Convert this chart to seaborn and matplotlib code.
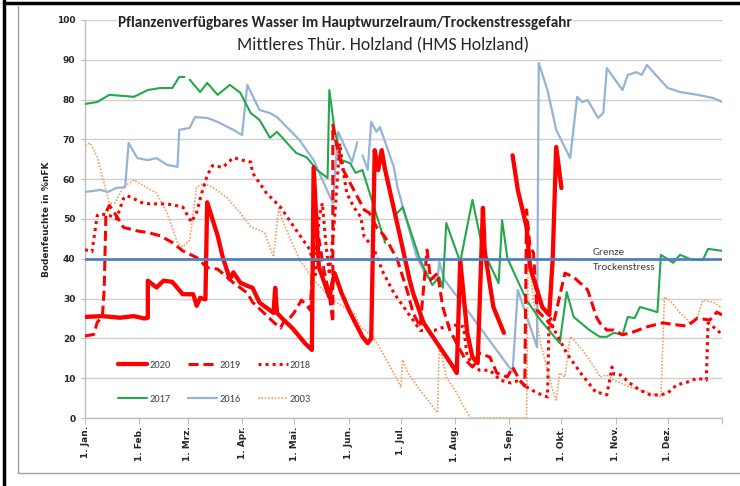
import numpy as np
import pandas as pd
import matplotlib
matplotlib.use("Agg")
import matplotlib.pyplot as plt
import seaborn as sns
from matplotlib import font_manager
from matplotlib.lines import Line2D

N = None
# ---------------- data (day of year, %nFK) ----------------
days_2020 = [0, 10, 20, 28, 34, 36, 36, 41, 45, 50, 56, 62, 64, 66, 69, 70, 76, 79, 83, 85, 89, 93, 96, 100, 108, 109,
             110, 113, 119, 126, 130, 131, 134, 140, 143, 147, 152, 159, 162, 164, 166, 168, 170, 172, 181, 186, 188,
             194, 211, 213, 215, 219, 222, 225, 228, 229, 234, 240, N, 245, 248, 253, 255, 262, 266, 268, 270, 273]
vals_2020 = [25.4, 25.6, 25.2, 25.6, 25.0, 25.2, 34.5, 32.8, 34.5, 34.2, 31.1, 31.1, 28.2, 30.2, 29.8, 54.2, 45.8, 40.3,
             34.9, 36.6, 34.0, 33.2, 32.7, 29.0, 26.4, 32.7, 26.4, 25.0, 22.5, 18.8, 17.1, 63.0, 38.0, 30.4, 36.4, 31.4,
             26.4, 20.4, 18.8, 20.0, 67.3, 62.3, 67.3, 62.3, 44.7, 34.7, 31.4, 23.9, 12.8, 11.3, 39.7, 21.4, 15.3, 13.8,
             52.8, 42.0, 27.9, 21.4, N, 66.0, 57.3, 48.0, 38.0, 27.9, 25.9, 40.0, 68.1, 57.8]

days_2019 = [0, 5, 7, 10, 11, 12, 14, 18, 22, 30, 36, 43, 50, 56, 64, 70, 76, 85, 93, 96, 102, 108, 112, 115, 118, 120,
             124, 127, 129, 131, 134, 137, 140, 142, 142, 145, 148, 154, 160, 163, 167, 171, 173, 179, 185, 188, 192,
             196, 198, 202, 205, 209, 218, 222, 226, 232, 236, 242, 245, 249, 252, 253, 255, 257, 259, 268, 275, 280,
             288, 293, 295, 299, 303, 308, 314, 322, 331, 339, 345, 351, 358, 362, 365]
vals_2019 = [20.6, 21.0, 24.0, 25.6, 32.4, 51.7, 53.4, 50.8, 47.9, 47.0, 46.6, 45.8, 44.1, 42.0, 40.3, 37.8, 37.4, 34.0,
             31.4, 29.1, 26.6, 24.1, 22.6, 25.1, 25.4, 26.6, 29.6, 28.4, 27.1, 42.0, 45.0, 37.0, 31.0, 24.0, 73.6, 66.6,
             62.3, 57.3, 52.3, 51.5, 48.0, 46.0, 44.7, 39.7, 31.4, 26.4, 22.9, 42.2, 34.7, 36.4, 27.9, 22.1, 14.6, 12.8,
             16.3, 15.3, 11.3, 10.3, 12.8, 9.5, 8.0, 52.3, 43.0, 41.5, 27.1, 22.9, 36.4, 35.4, 32.2, 25.4, 23.9, 22.1,
             22.1, 20.9, 21.6, 22.9, 23.9, 23.4, 23.1, 25.1, 24.6, 26.6, 25.9]

days_2018 = [0, 4, 7, 9, 14, 18, 22, 24, 28, 32, 37, 45, 50, 56, 61, 64, 67, 70, 73, 79, 85, 91, 95, 96, 104, 112, 121,
             129, 132, 134, 136, 138, 140, 143, 146, 148, 150, 154, 158, 160, 165, 171, 177, 185, 188, 192, 200, 210,
             217, 219, 226, 232, 238, 244, 249, 253, 259, 265, 266, 268, 272, 276, 284, 293, 295, 299, 302, 303, 307,
             312, 318, 324, 330, 334, 339, 345, 351, 356, 357, 360, 364]
vals_2018 = [42.3, 41.8, 50.9, 51.3, 50.9, 50.0, 55.1, 55.9, 55.1, 54.2, 53.8, 53.8, 53.6, 53.0, 49.2, 51.7, 56.7, 60.9,
             63.4, 63.0, 65.4, 64.7, 64.3, 61.6, 56.5, 53.0, 47.2, 42.2, 36.0, 50.0, 54.0, 44.0, 36.0, 50.0, 69.0, 62.0,
             56.5, 53.0, 50.5, 45.5, 43.0, 36.4, 31.4, 26.4, 24.6, 22.0, 22.0, 23.5, 22.9, 15.3, 12.0, 12.0, 9.5, 8.8,
             9.5, 7.8, 6.3, 5.3, 26.4, 22.9, 19.6, 16.3, 11.3, 6.3, 6.3, 5.8, 12.8, 11.0, 10.8, 8.8, 7.0, 5.8, 5.8, 6.3,
             8.3, 9.0, 10.0, 9.5, 23.9, 22.9, 21.4]

days_2017 = [0, 7, 14, 28, 36, 43, 50, 54, 57, N, 60, 66, 70, 76, 83, 89, 95, 100, 106, 110, 121, 127, 133, 139, 140,
             143, 147, 152, 155, 159, 172, N, 179, 182, 192, 199, 203, 205, 207, 215, 222, 228, 237, 239, 242, 253, 261,
             272, 276, 280, 289, 295, 299, 303, 308, 311, 315, 318, 328, 330, 337, 341, 348, 354, 357, 365]
vals_2017 = [78.9, 79.4, 81.2, 80.7, 82.4, 82.9, 82.9, 85.7, 85.7, N, 85.0, 81.9, 84.2, 81.2, 83.7, 81.7, 76.6, 74.9,
             70.4, 71.9, 66.6, 65.5, 62.3, 60.3, 82.4, 72.4, 64.8, 64.0, 61.6, 62.3, 44.0, N, 51.5, 53.0, 39.7, 33.4,
             35.4, 32.7, 49.0, 39.2, 54.8, 42.2, 33.9, 49.7, 40.2, 29.6, 24.6, 18.8, 31.7, 25.4, 22.1, 20.4, 20.4, 21.4,
             20.9, 25.4, 25.1, 27.9, 26.6, 41.0, 39.0, 41.0, 39.7, 39.7, 42.5, 42.0]

days_2016 = [0, 9, 13, 18, 23, 25, 30, 36, 41, 47, 53, 54, 60, 63, 70, 76, 85, 90, 93, 100, 106, 110, 123, 131, 142,
             145, 153, 156, N, 159, 162, 164, 167, 169, 177, 179, 190, 196, 202, 203, 206, 216, 245, 248, 259, 260, 265,
             270, 278, 282, 285, 288, 294, 297, 299, 308, 311, 316, 319, 322, 326, 334, 341, 351, 360, 365]
vals_2016 = [56.8, 57.3, 56.8, 57.8, 58.0, 69.1, 65.3, 64.8, 65.3, 63.6, 63.1, 72.4, 72.9, 75.6, 75.4, 74.4, 72.4,
             71.1, 83.7, 77.4, 76.6, 75.6, 69.8, 64.8, 54.0, 71.9, 64.3, 69.3, N, 66.0, 62.3, 74.4, 71.9, 73.1, 63.0,
             58.0, 40.5, 35.4, 34.7, 39.2, 34.7, 28.9, 11.6, 32.2, 17.8, 89.2, 82.4, 72.4, 65.3, 80.7, 79.4, 79.9, 75.4,
             76.6, 87.9, 82.4, 86.2, 86.9, 86.2, 88.7, 86.7, 82.9, 81.9, 81.2, 80.4, 79.4]

days_2003 = [0, 3, 7, 10, 14, 17, 22, 28, 33, 41, 47, 53, 56, 60, 64, 68, 73, 81, 89, 95, 100, 103, 108, 111, 113, 123,
             131, 142, 154, 158, 165, 168, 175, 181, 182, 185, 192, 202, 203, 207, 213, 217, 221, 253, 254, 257, 261,
             268, 270, 272, 275, 278, 280, 285, 293, 295, 299, 303, 312, 322, 330, 332, 335, 341, 347, 351, 354, 360, 365]
vals_2003 = [68.6, 69.1, 65.6, 60.6, 54.0, 54.0, 58.0, 59.8, 58.5, 56.5, 51.5, 44.0, 43.0, 44.7, 58.0, 59.0, 58.0, 55.5,
             51.5, 48.0, 47.2, 46.5, 40.5, 53.0, 49.7, 39.7, 34.7, 29.6, 26.4, 22.9, 20.4, 18.3, 12.8, 7.8, 14.6, 11.3,
             7.0, 1.3, 18.8, 10.3, 6.3, 2.8, 0.0, 0.0, 42.2, 29.6, 18.8, 7.0, 4.5, 11.3, 10.3, 20.4, 19.6, 17.1, 12.0,
             10.3, 10.8, 9.5, 7.8, 6.5, 5.3, 30.4, 29.6, 26.4, 23.9, 25.4, 29.6, 29.1, 27.6]

month_days = [0, 31, 59, 90, 120, 151, 181, 212, 243, 273, 304, 334]
month_labels = ["1. Jan.", "1. Feb.", "1. Mrz.", "1. Apr.", "1. Mai.", "1. Jun.", "1. Jul.", "1. Aug.",
                "1. Sep.", "1. Okt.", "1. Nov.", "1. Dez."]
threshold = 40
title = "Pflanzenverfügbares Wasser im Hauptwurzelraum/Trockenstressgefahr"
subtitle = "Mittleres Thür. Holzland (HMS Holzland)"

# ---------------- style ----------------
sns.set_style("white")
avail = {f.name for f in font_manager.fontManager.ttflist}
narrow = next((f for f in ["Carlito", "Liberation Sans Narrow", "Liberation Sans", "DejaVu Sans"] if f in avail))
plt.rcParams["font.family"] = [narrow, "DejaVu Sans"]

fig = plt.figure(figsize=(7.4, 4.86), dpi=100)
W, H = 740, 486
ax = fig.add_axes([85 / W, 1 - 418 / H, (722 - 85) / W, (418 - 20) / H])

series = [
    ("2020", days_2020, vals_2020, dict(color="#ff0000", lw=3.1, ls="-")),
    ("2019", days_2019, vals_2019, dict(color="#ff0000", lw=2.2, ls=(0, (3.3, 1.6)))),
    ("2018", days_2018, vals_2018, dict(color="#ff0000", lw=2.2, ls=(0, (1.0, 1.3)))),
    ("2017", days_2017, vals_2017, dict(color="#22a84b", lw=1.5, ls="-")),
    ("2016", days_2016, vals_2016, dict(color="#95b3d7", lw=1.6, ls="-")),
    ("2003", days_2003, vals_2003, dict(color="#f0a060", lw=1.2, ls=(0, (1.0, 1.0)))),
]

zorders = {"2003": 3, "2016": 4, "2017": 5, "2018": 6, "2019": 7, "2020": 8}
handles = {}
for name, d, v, st in series:
    segs, cur_d, cur_v = [], [], []
    for a, b in zip(d, v):
        if a is None:
            segs.append((cur_d, cur_v)); cur_d, cur_v = [], []
        else:
            cur_d.append(a); cur_v.append(b)
    segs.append((cur_d, cur_v))
    for sd, sv in segs:
        n0 = len(ax.lines)
        sns.lineplot(x=sd, y=sv, ax=ax, sort=False, estimator=None, color=st["color"],
                     linewidth=st["lw"], legend=False)
        ln = ax.lines[n0]
        ln.set_linestyle(st["ls"])
        ln.set_zorder(zorders[name])
        ln.set_solid_joinstyle("round")
        handles.setdefault(name, ln)

ax.axhline(threshold, color="#4f81bd", lw=2.0, zorder=9)
ax.text(291, 41.6, "Grenze", fontsize=8, color="#404040", va="center", ha="left", zorder=10)
ax.text(291, 37.9, "Trockenstress", fontsize=8, color="#404040", va="center", ha="left", zorder=10)

ax.set_xlim(0, 365)
ax.set_ylim(0, 100)
ax.set_yticks(range(0, 101, 10))
ax.set_xticks(month_days + [365])
ax.set_xticklabels(month_labels + [""], rotation=90, fontsize=6.5, fontweight="bold",
                   color="#262626", family="DejaVu Sans")
ax.set_yticklabels([str(t) for t in range(0, 101, 10)], fontsize=6.5, fontweight="bold",
                   color="#262626", family="DejaVu Sans")
ax.yaxis.grid(True, color="#d0d0d0", lw=1.0)
ax.set_axisbelow(True)
for s in ["top", "right"]:
    ax.spines[s].set_visible(False)
for s in ["left", "bottom"]:
    ax.spines[s].set_color("#bfbfbf")
    ax.spines[s].set_linewidth(1.0)
ax.tick_params(axis="x", length=4, color="#bfbfbf", pad=2, direction="out", bottom=True)
ax.tick_params(axis="y", length=3, color="#bfbfbf", pad=4, direction="out", left=True)
ax.set_xlabel("")
ax.set_ylabel("Bodenfeuchte in %nFK", fontsize=6.5, fontweight="bold", color="#262626",
              family="DejaVu Sans", labelpad=4)

order = ["2020", "2017", "2019", "2016", "2018", "2003"]
leg = ax.legend([handles[k] for k in order], order, ncol=3, loc="upper left",
                bbox_to_anchor=(0.052, 0.145), frameon=False, fontsize=7.5, handlelength=2.8,
                handletextpad=0.2, columnspacing=1.7, labelspacing=2.4, borderpad=0, borderaxespad=0)
for t in leg.get_texts():
    t.set_color("#404040")

fig.text(0.466, 1 - 23 / H, title, fontsize=11, fontweight="bold", ha="center", va="center", color="#262626",
         bbox=dict(facecolor="white", edgecolor="none", pad=1), zorder=20)
fig.text(0.518, 1 - 45 / H, subtitle, fontsize=12.8, ha="center", va="center", color="#262626")

# frames
fig.add_artist(Line2D([18 / W, 18 / W, 1.0], [1 - 6 / H, 1 - 473 / H, 1 - 473 / H], color="#a0a0a0", lw=1.0,
                      transform=fig.transFigure))
fig.add_artist(Line2D([4 / W, 4 / W], [0, 1], color="black", lw=2.5, transform=fig.transFigure))
fig.add_artist(Line2D([4 / W, 1.0], [1 - 3 / H, 1 - 3 / H], color="black", lw=2.5, transform=fig.transFigure))

fig.savefig("out.png", dpi=100)
